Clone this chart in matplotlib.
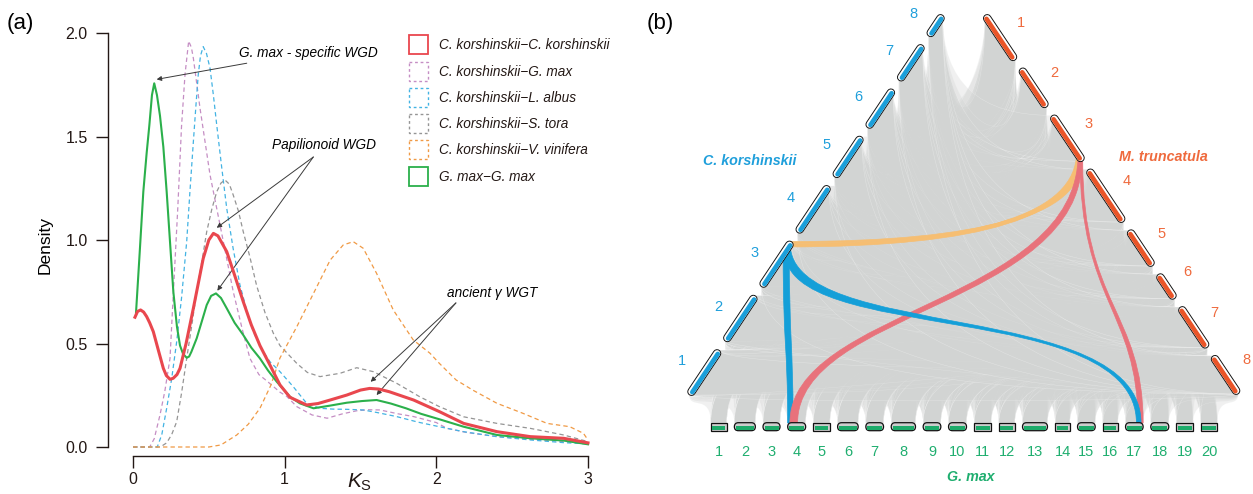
import numpy as np
import matplotlib
matplotlib.use("Agg")
import matplotlib.pyplot as plt
from matplotlib.path import Path
from matplotlib.patches import PathPatch, FancyBboxPatch, Rectangle

plt.rcParams['font.family'] = ['Liberation Sans', 'DejaVu Sans']
plt.rcParams['mathtext.fontset'] = 'custom'
plt.rcParams['mathtext.it'] = 'Liberation Sans:italic'
plt.rcParams['mathtext.rm'] = 'Liberation Sans'

# ================= Panel (a): Ks density curves =================
ks_ckck_x = [0.013, 0.03, 0.05, 0.07, 0.09, 0.11, 0.134, 0.17, 0.2, 0.22, 0.244, 0.265, 0.29, 0.31, 0.35, 0.398,
             0.463, 0.50, 0.53, 0.56, 0.618, 0.67, 0.727, 0.78, 0.837, 0.90, 0.969, 1.035, 1.145, 1.22, 1.30,
             1.41, 1.50, 1.56, 1.62, 1.69, 1.85, 2.02, 2.18, 2.40, 2.62, 2.84, 3.0]
ks_ckck_y = [0.627, 0.655, 0.662, 0.652, 0.63, 0.60, 0.557, 0.46, 0.38, 0.345, 0.327, 0.332, 0.35, 0.38, 0.50, 0.67,
             0.911, 1.00, 1.032, 1.02, 0.944, 0.83, 0.702, 0.59, 0.49, 0.40, 0.30, 0.24, 0.203, 0.21, 0.227,
             0.251, 0.275, 0.283, 0.28, 0.267, 0.227, 0.171, 0.114, 0.074, 0.05, 0.042, 0.02]

ks_ckgm_x = [0.0, 0.11, 0.14, 0.178, 0.21, 0.244, 0.27, 0.295, 0.32, 0.343, 0.367, 0.385, 0.398, 0.442, 0.508,
             0.574, 0.661, 0.72, 0.771, 0.83, 0.881, 0.969, 1.013, 1.08, 1.18, 1.28, 1.38, 1.475, 1.55, 1.628,
             1.75, 1.85, 2.0, 2.07, 2.2, 2.4, 2.62, 2.84, 3.0]
ks_ckgm_y = [0.0, 0.0, 0.04, 0.155, 0.27, 0.428, 0.80, 1.15, 1.55, 1.80, 1.961, 1.93, 1.878, 1.636, 1.314,
             1.072, 0.75, 0.57, 0.428, 0.35, 0.32, 0.265, 0.245, 0.195, 0.155, 0.139, 0.16, 0.175, 0.18, 0.179,
             0.16, 0.147, 0.118, 0.09, 0.07, 0.05, 0.037, 0.027, 0.018]

ks_ckla_x = [0.0, 0.16, 0.19, 0.222, 0.255, 0.288, 0.32, 0.354, 0.375, 0.398, 0.415, 0.43, 0.445, 0.463, 0.485,
             0.508, 0.53, 0.552, 0.585, 0.618, 0.66, 0.705, 0.75, 0.793, 0.85, 0.903, 0.969, 1.057, 1.145, 1.233,
             1.32, 1.41, 1.518, 1.62, 1.738, 1.88, 2.02, 2.18, 2.40, 2.62, 2.84, 3.0]
ks_ckla_y = [0.0, 0.0, 0.06, 0.187, 0.33, 0.509, 0.72, 0.992, 1.23, 1.475, 1.65, 1.797, 1.89, 1.934, 1.90,
             1.829, 1.70, 1.556, 1.35, 1.153, 0.96, 0.783, 0.66, 0.557, 0.47, 0.412, 0.364, 0.291, 0.211, 0.187,
             0.183, 0.182, 0.179, 0.165, 0.147, 0.12, 0.098, 0.074, 0.05, 0.034, 0.021, 0.015]

ks_ckst_x = [0.0, 0.18, 0.222, 0.255, 0.288, 0.32, 0.354, 0.39, 0.42, 0.455, 0.486, 0.52, 0.552, 0.58, 0.606,
             0.635, 0.661, 0.695, 0.727, 0.77, 0.815, 0.87, 0.925, 0.969, 1.08, 1.15, 1.233, 1.365, 1.475, 1.584,
             1.738, 1.89, 2.02, 2.18, 2.40, 2.62, 2.84, 3.0]
ks_ckst_y = [0.0, 0.0, 0.02, 0.06, 0.122, 0.26, 0.428, 0.60, 0.75, 0.90, 1.04, 1.15, 1.233, 1.275, 1.29,
             1.27, 1.217, 1.14, 1.04, 0.92, 0.78, 0.65, 0.55, 0.49, 0.404, 0.36, 0.34, 0.356, 0.383, 0.364,
             0.308, 0.243, 0.195, 0.146, 0.114, 0.09, 0.058, 0.026]

ks_ckvv_x = [0.0, 0.5, 0.58, 0.684, 0.76, 0.837, 0.91, 0.969, 1.08, 1.19, 1.30, 1.386, 1.452, 1.518, 1.606,
             1.716, 1.848, 1.958, 2.02, 2.13, 2.24, 2.40, 2.57, 2.73, 2.88, 2.97, 3.0]
ks_ckvv_y = [0.0, 0.0, 0.01, 0.058, 0.11, 0.187, 0.30, 0.43, 0.581, 0.742, 0.903, 0.976, 0.992, 0.96, 0.839,
             0.662, 0.517, 0.453, 0.404, 0.324, 0.275, 0.211, 0.163, 0.114, 0.098, 0.066, 0.034]

ks_gmgm_x = [0.02, 0.045, 0.068, 0.09, 0.108, 0.125, 0.14, 0.158, 0.178, 0.20, 0.222, 0.245, 0.266, 0.29, 0.31,
             0.33, 0.354, 0.37, 0.385, 0.42, 0.455, 0.486, 0.515, 0.547, 0.58, 0.618, 0.67, 0.727, 0.78, 0.837,
             0.89, 0.947, 1.035, 1.10, 1.19, 1.30, 1.41, 1.51, 1.606, 1.70, 1.80, 1.90, 2.02, 2.18, 2.28, 2.40,
             2.62, 2.84, 3.0]
ks_gmgm_y = [0.65, 0.95, 1.233, 1.42, 1.556, 1.70, 1.757, 1.70, 1.60, 1.45, 1.233, 0.98, 0.75, 0.58, 0.49,
             0.45, 0.431, 0.437, 0.46, 0.525, 0.61, 0.686, 0.73, 0.742, 0.72, 0.67, 0.60, 0.541, 0.48, 0.428,
             0.37, 0.316, 0.243, 0.211, 0.187, 0.20, 0.214, 0.222, 0.227, 0.21, 0.187, 0.16, 0.134, 0.098, 0.08,
             0.058, 0.042, 0.031, 0.013]

series_labels = ["C. korshinskii\u2212C. korshinskii", "C. korshinskii\u2212G. max",
                 "C. korshinskii\u2212L. albus", "C. korshinskii\u2212S. tora",
                 "C. korshinskii\u2212V. vinifera", "G. max\u2212G. max"]

# ================= Panel (b): chromosome lengths (Mb) =================
ck_chrom_len = [54.0, 54.8, 54.5, 56.2, 48.7, 46.2, 42.7, 25.5]
mt_chrom_len = [54.4, 46.7, 55.1, 63.3, 43.0, 29.6, 48.9, 45.9]
gm_chrom_len = [16.0, 21.0, 17.0, 18.0, 16.6, 20.6, 17.7, 24.3, 17.7, 18.0,
                17.0, 16.0, 25.0, 14.7, 17.7, 15.0, 17.6, 18.0, 16.6, 16.6]
gm_chrom_rounded = [0, 1, 1, 1, 0, 1, 1, 1, 1, 1, 0, 0, 1, 0, 1, 0, 1, 1, 0, 0]
ck_chrom_names = ["1", "2", "3", "4", "5", "6", "7", "8"]
mt_chrom_names = ["1", "2", "3", "4", "5", "6", "7", "8"]
gm_chrom_names = [str(i) for i in range(1, 21)]

# highlighted collinear blocks: genomeA, chrA, startA, endA, genomeB, chrB, startB, endB (Mb)
hl_blocks = [
    ("ck", 3, 48.0, 52.0, "mt", 3, 44.1, 48.5),
    ("ck", 3, 52.6, 54.5, "mt", 3, 49.6, 53.4),
    ("ck", 3, 39.2, 50.1, "gm", 4, 0.0, 5.4),
    ("mt", 3, 46.8, 53.4, "gm", 4, 2.2, 9.9),
    ("mt", 3, 50.0, 55.1, "gm", 17, 12.5, 17.6),
    ("ck", 3, 42.5, 51.8, "gm", 17, 10.9, 15.5),
]
hl_colors = ["#f6be72", "#f6be72", "#149fd8", "#e8727b", "#e8727b", "#149fd8"]

W, H = 1253, 494
fig = plt.figure(figsize=(W / 100, H / 100), dpi=100)

# pixel-space axes for panel (b) and free layout
ax2 = fig.add_axes([0, 0, 1, 1])
ax2.set_xlim(0, W)
ax2.set_ylim(H, 0)
ax2.axis('off')
ax2.set_zorder(2)

# ---------------- panel (a) axes ----------------
X0PX, X3PX = 133.0, 588.0
Y0PX, Y2PX = 447.0, 33.0
sx = (X3PX - X0PX) / 3.0
sy = (Y0PX - Y2PX) / 2.0
left_px, right_px, bottom_px, top_px = 108.0, 588.0, 456.0, 33.0
ax1 = fig.add_axes([left_px / W, (H - bottom_px) / H, (right_px - left_px) / W, (bottom_px - top_px) / H])
ax1.set_xlim((left_px - X0PX) / sx, (right_px - X0PX) / sx)
ax1.set_ylim((Y0PX - bottom_px) / sy, (Y0PX - top_px) / sy)
ax1.patch.set_visible(False)
for s in ['top', 'right']:
    ax1.spines[s].set_visible(False)
ax1.spines['left'].set_bounds(0, 2)
ax1.spines['bottom'].set_bounds(0, 3)
for s in ['left', 'bottom']:
    ax1.spines[s].set_linewidth(1.0)
    ax1.spines[s].set_color('#231815')
ax1.set_yticks([0, 0.5, 1.0, 1.5, 2.0])
ax1.set_yticklabels(["0.0", "0.5", "1.0", "1.5", "2.0"])
ax1.set_xticks([0, 1, 2, 3])
ax1.tick_params(axis='both', length=8.5, width=1.0, color='#231815', labelsize=11.5, labelcolor='#231815')
ax1.tick_params(axis='y', pad=6)
ax1.tick_params(axis='x', pad=3)
ax1.set_ylabel("Density", fontsize=12.5, labelpad=9)

series = [
    (ks_ckck_x, ks_ckck_y, '#e9474e', 2.2, '-'),
    (ks_ckgm_x, ks_ckgm_y, '#c58ec4', 0.9, '--'),
    (ks_ckla_x, ks_ckla_y, '#43b3e3', 0.9, '--'),
    (ks_ckst_x, ks_ckst_y, '#959595', 0.9, '--'),
    (ks_ckvv_x, ks_ckvv_y, '#f09a45', 0.9, '--'),
    (ks_gmgm_x, ks_gmgm_y, '#2bb04b', 1.5, '-'),
]
zorders = [5, 3, 3, 3, 3, 4]
for (xs, ys, c, lw, ls), z in zip(series, zorders):
    if ls == '--':
        ax1.plot(xs, ys, color=c, lw=lw, dashes=(3.5, 2.5), zorder=z, clip_on=False)
    else:
        ax1.plot(xs, ys, color=c, lw=lw, zorder=z, clip_on=False, solid_joinstyle='round')

fig.text(360 / W, 1 - 472 / H, r'$K_\mathrm{S}$', fontsize=15, ha='center', va='top', color='#231815')

arrow_kw = dict(arrowstyle='-|>', color='#3a3a3a', lw=0.7, mutation_scale=7, shrinkA=0, shrinkB=0)
ax1.annotate("", xy=(0.156, 1.776), xytext=(0.75, 1.854), arrowprops=arrow_kw, annotation_clip=False)
ax1.text(0.699, 1.905, "G. max - specific WGD", fontsize=9.8, style='italic', va='center', ha='left')
ax1.annotate("", xy=(0.552, 1.059), xytext=(1.189, 1.401), arrowprops=arrow_kw, annotation_clip=False)
ax1.annotate("", xy=(0.556, 0.755), xytext=(1.189, 1.401), arrowprops=arrow_kw, annotation_clip=False)
ax1.text(0.916, 1.459, "Papilionoid WGD", fontsize=9.8, style='italic', va='center', ha='left')
ax1.annotate("", xy=(1.567, 0.315), xytext=(2.129, 0.696), arrowprops=arrow_kw, annotation_clip=False)
ax1.annotate("", xy=(1.606, 0.251), xytext=(2.129, 0.696), arrowprops=arrow_kw, annotation_clip=False)
ax1.text(2.07, 0.744, "ancient \u03b3 WGT", fontsize=9.8, style='italic', va='center', ha='left')

# legend (pixel layout)
leg_rows = [45, 71.7, 98.3, 124.3, 150, 176.7]
for (xs, ys, c, lw, ls), yy, lab in zip(series, leg_rows, series_labels):
    if ls == '--':
        r = Rectangle((409, yy - 10), 19, 19, fill=False, ec=c, lw=1.0, linestyle=(0, (2, 2)))
    else:
        r = Rectangle((409, yy - 10), 19, 19, fill=False, ec=c, lw=1.3)
    ax2.add_patch(r)
    ax2.text(439, yy, lab, fontsize=9.8, style='italic', va='center', ha='left', color='#231815')

fig.text(7 / W, 1 - 23 / H, "(a)", fontsize=16, ha='left', va='center')
fig.text(647 / W, 1 - 23 / H, "(b)", fontsize=16, ha='left', va='center')

# ================= Panel (b) geometry =================
def layout(p0, p1, lengths, gap):
    p0 = np.array(p0, float)
    p1 = np.array(p1, float)
    total = np.linalg.norm(p1 - p0)
    u = (p1 - p0) / total
    scale = (total - gap * (len(lengths) - 1)) / sum(lengths)
    segs = []
    pos = 0.0
    for L in lengths:
        segs.append((p0 + u * pos, scale))
        pos += L * scale + gap
    return segs, u

BASE_Y = 423.0
axes_geo = {
    'ck': layout((689.3, 395.0), (942.7, 15.0), ck_chrom_len, 10.6),
    'mt': layout((985.0, 15.0), (1238.3, 394.0), mt_chrom_len, 9.9),
    'gm': layout((710.7, BASE_Y), (1217.3, BASE_Y), gm_chrom_len, 7.66),
}
lens = {'ck': ck_chrom_len, 'mt': mt_chrom_len, 'gm': gm_chrom_len}


def pt(g, chrom, mb):
    segs, u = axes_geo[g]
    start, scale = segs[chrom - 1]
    return start + u * mb * scale


def ctrl(p, q, gp, gq):
    dx, dy = abs(p[0] - q[0]), abs(p[1] - q[1])
    if gp == 'gm':
        k = max(0.35 * dy, 0.3 * dx) + 20.0
        return (p[0], p[1] - k)
    if gq == 'gm':
        return (p[0], p[1] + 0.55 * dy)
    # side <-> side link (C. korshinskii <-> M. truncatula)
    ck_p, mt_p = (p, q) if gp == 'ck' else (q, p)
    diff = ck_p[1] - mt_p[1]
    if abs(diff) > 80:
        # the lower end leaves horizontally, the upper end is reached vertically
        if p[1] > q[1]:
            return (p[0] + 2.0 / 3.0 * (q[0] - p[0]), p[1])
        return (p[0], p[1] + 2.0 / 3.0 * (q[1] - p[1]))
    k = 0.3 * (BASE_Y - max(p[1], q[1]))
    return (p[0], p[1] + k)


def ribbon(ga, a0, a1, gb, b0, b1):
    verts = [a0, ctrl(a0, b0, ga, gb), ctrl(b0, a0, gb, ga), b0,
             b1, ctrl(b1, a1, gb, ga), ctrl(a1, b1, ga, gb), a1, a0]
    codes = [Path.MOVETO, Path.CURVE4, Path.CURVE4, Path.CURVE4,
             Path.LINETO, Path.CURVE4, Path.CURVE4, Path.CURVE4, Path.CLOSEPOLY]
    return Path(verts, codes)


def block_path(ga, ca, sa, ea, gb, cb, sb, eb):
    A0, A1 = pt(ga, ca, sa), pt(ga, ca, ea)
    B0, B1 = pt(gb, cb, sb), pt(gb, cb, eb)
    if ga == 'ck' and gb == 'mt':
        return ribbon(ga, A1, A0, gb, B0, B1)
    return ribbon(ga, A0, A1, gb, B0, B1)


gray_pairs = ([('ck', i, 'gm', j) for i in range(1, 9) for j in range(1, 21)] +
              [('mt', i, 'gm', j) for i in range(1, 9) for j in range(1, 21)] +
              [('ck', i, 'mt', j) for i in range(1, 9) for j in range(1, 9)])
for ga, ca, gb, cb in gray_pairs:
    path = block_path(ga, ca, 0.0, lens[ga][ca - 1], gb, cb, 0.0, lens[gb][cb - 1])
    ax2.add_patch(PathPatch(path, facecolor=(0.824, 0.831, 0.827, 0.33), edgecolor=(1, 1, 1, 0.35),
                            lw=0.35, zorder=1))

for blk, col in zip(hl_blocks, hl_colors):
    ax2.add_patch(PathPatch(block_path(*blk), fc=col, ec=col, lw=0.5, zorder=3))

PT = 0.72  # points per pixel


def side_chroms(g, color, inward):
    segs, u = axes_geo[g]
    inward = np.array(inward)
    for (start, scale), L in zip(segs, lens[g]):
        s = start + u * 4.0
        e = start + u * (L * scale - 4.0)
        ax2.plot([s[0], e[0]], [s[1], e[1]], color='#111111', lw=8.5 * PT, solid_capstyle='round', zorder=5)
        ax2.plot([s[0], e[0]], [s[1], e[1]], color='white', lw=6.6 * PT, solid_capstyle='round', zorder=6)
        s2, e2 = s + inward * 0.9, e + inward * 0.9
        ax2.plot([s2[0], e2[0]], [s2[1], e2[1]], color=color, lw=4.6 * PT, solid_capstyle='round', zorder=7)


side_chroms('ck', '#1b9fda', (0.83, 0.56))
side_chroms('mt', '#ea5528', (-0.83, 0.56))

segs, u = axes_geo['gm']
for (start, scale), L, rnd in zip(segs, gm_chrom_len, gm_chrom_rounded):
    x0 = start[0]
    w = L * scale
    style = 'round,pad=0,rounding_size=4' if rnd else 'square,pad=0'
    ax2.add_patch(FancyBboxPatch((x0, 422.7), w, 8.0, boxstyle=style, fc='#cdcdcd', ec='#111111',
                                 lw=0.9, zorder=5))
    ax2.add_patch(Rectangle((x0 + 1.5, 426.2), w - 3.0, 3.4, fc='#1dab6a', ec='none', zorder=6))

# chromosome labels
segs, u = axes_geo['ck']
for (start, scale), L, name in zip(segs, ck_chrom_len, ck_chrom_names):
    c = start + u * L * scale / 2
    ax2.text(c[0] - 22, c[1] - 11.5, name, color='#1f9fdb', fontsize=10.5, ha='center', va='center')
segs, u = axes_geo['mt']
for (start, scale), L, name in zip(segs, mt_chrom_len, mt_chrom_names):
    c = start + u * L * scale / 2
    ax2.text(c[0] + 21, c[1] - 14.5, name, color='#ef6a3d', fontsize=10.5, ha='center', va='center')
segs, u = axes_geo['gm']
for (start, scale), L, name in zip(segs, gm_chrom_len, gm_chrom_names):
    c = start + u * L * scale / 2
    ax2.text(c[0], 452, name, color='#1fae6f', fontsize=10.5, ha='center', va='center')

ax2.text(750, 161, "C. korshinskii", color='#1f9fdb', fontsize=10.3, style='italic', weight='bold',
         ha='center', va='center')
ax2.text(1163, 157, "M. truncatula", color='#ef6a3d', fontsize=10.3, style='italic', weight='bold',
         ha='center', va='center')
ax2.text(971, 477, "G. max", color='#1fae6f', fontsize=10.3, style='italic', weight='bold',
         ha='center', va='center')

fig.savefig("out.png", dpi=100)
